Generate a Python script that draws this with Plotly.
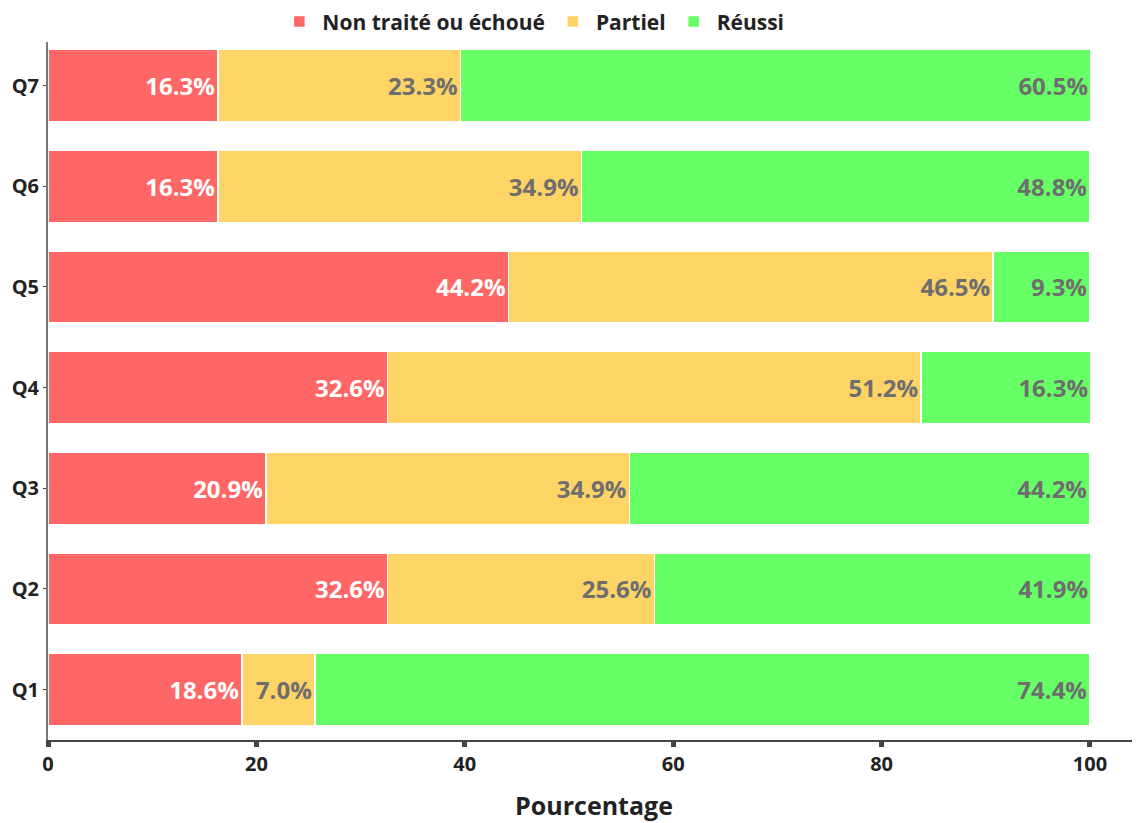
import plotly.graph_objects as go

questions = ["Q1", "Q2", "Q3", "Q4", "Q5", "Q6", "Q7"]
non_traite = [18.6, 32.6, 20.9, 32.6, 44.2, 16.3, 16.3]
partiel = [7.0, 25.6, 34.9, 51.2, 46.5, 34.9, 23.3]
reussi = [74.4, 41.9, 44.2, 16.3, 9.3, 48.8, 60.5]

series = [
    ("Non traité ou échoué", non_traite, "#FF6666", "white"),
    ("Partiel", partiel, "#FFD466", "#6e6e6e"),
    ("Réussi", reussi, "#66FF66", "#6e6e6e"),
]

FONT = "Open Sans"
fig = go.Figure()
for name, vals, color, tcol in series:
    fig.add_trace(go.Bar(
        y=questions, x=vals, name=name, orientation="h",
        marker=dict(color=color, line=dict(color="white", width=1.5)),
        text=[f"{v:.1f}%" for v in vals],
        textposition="inside", insidetextanchor="end",
        textfont=dict(family=FONT, size=24, color=tcol, weight="bold"),
        constraintext="none",
    ))

# page body has an 8px margin: figure is sized/offset to compensate
fig.update_layout(
    barmode="stack", bargap=0.285,
    width=1132, height=815,
    margin=dict(l=40, r=0, t=34, b=83),
    plot_bgcolor="white", paper_bgcolor="white",
    font=dict(family=FONT, size=20, color="#222222", weight="bold"),
    legend=dict(orientation="h", x=0.444, xanchor="center",
                yref="container", y=0.983, yanchor="middle",
                font=dict(family=FONT, size=21, color="#222222", weight="bold"),
                itemwidth=36, traceorder="normal"),
    xaxis=dict(range=[0, 104.8], tickvals=[0, 20, 40, 60, 80, 100], automargin=False,
               showgrid=False, zeroline=False, showline=True, linecolor="#444444", linewidth=1.5,
               ticks="outside", ticklen=5, tickwidth=5, tickcolor="#444444",
               tickfont=dict(family=FONT, size=20, color="#222222", weight="bold"),
               title=dict(text="Pourcentage", standoff=22,
                          font=dict(family=FONT, size=25, color="#222222", weight="bold"))),
    yaxis=dict(range=[-0.5, 6.43], showgrid=False, zeroline=False, automargin=False,
               showline=True, linecolor="#777777", linewidth=2,
               ticks="outside", ticklen=3, tickwidth=1, tickcolor="#444444",
               tickfont=dict(family=FONT, size=20, color="#222222", weight="bold")),
)

fig.write_html("out.html")
